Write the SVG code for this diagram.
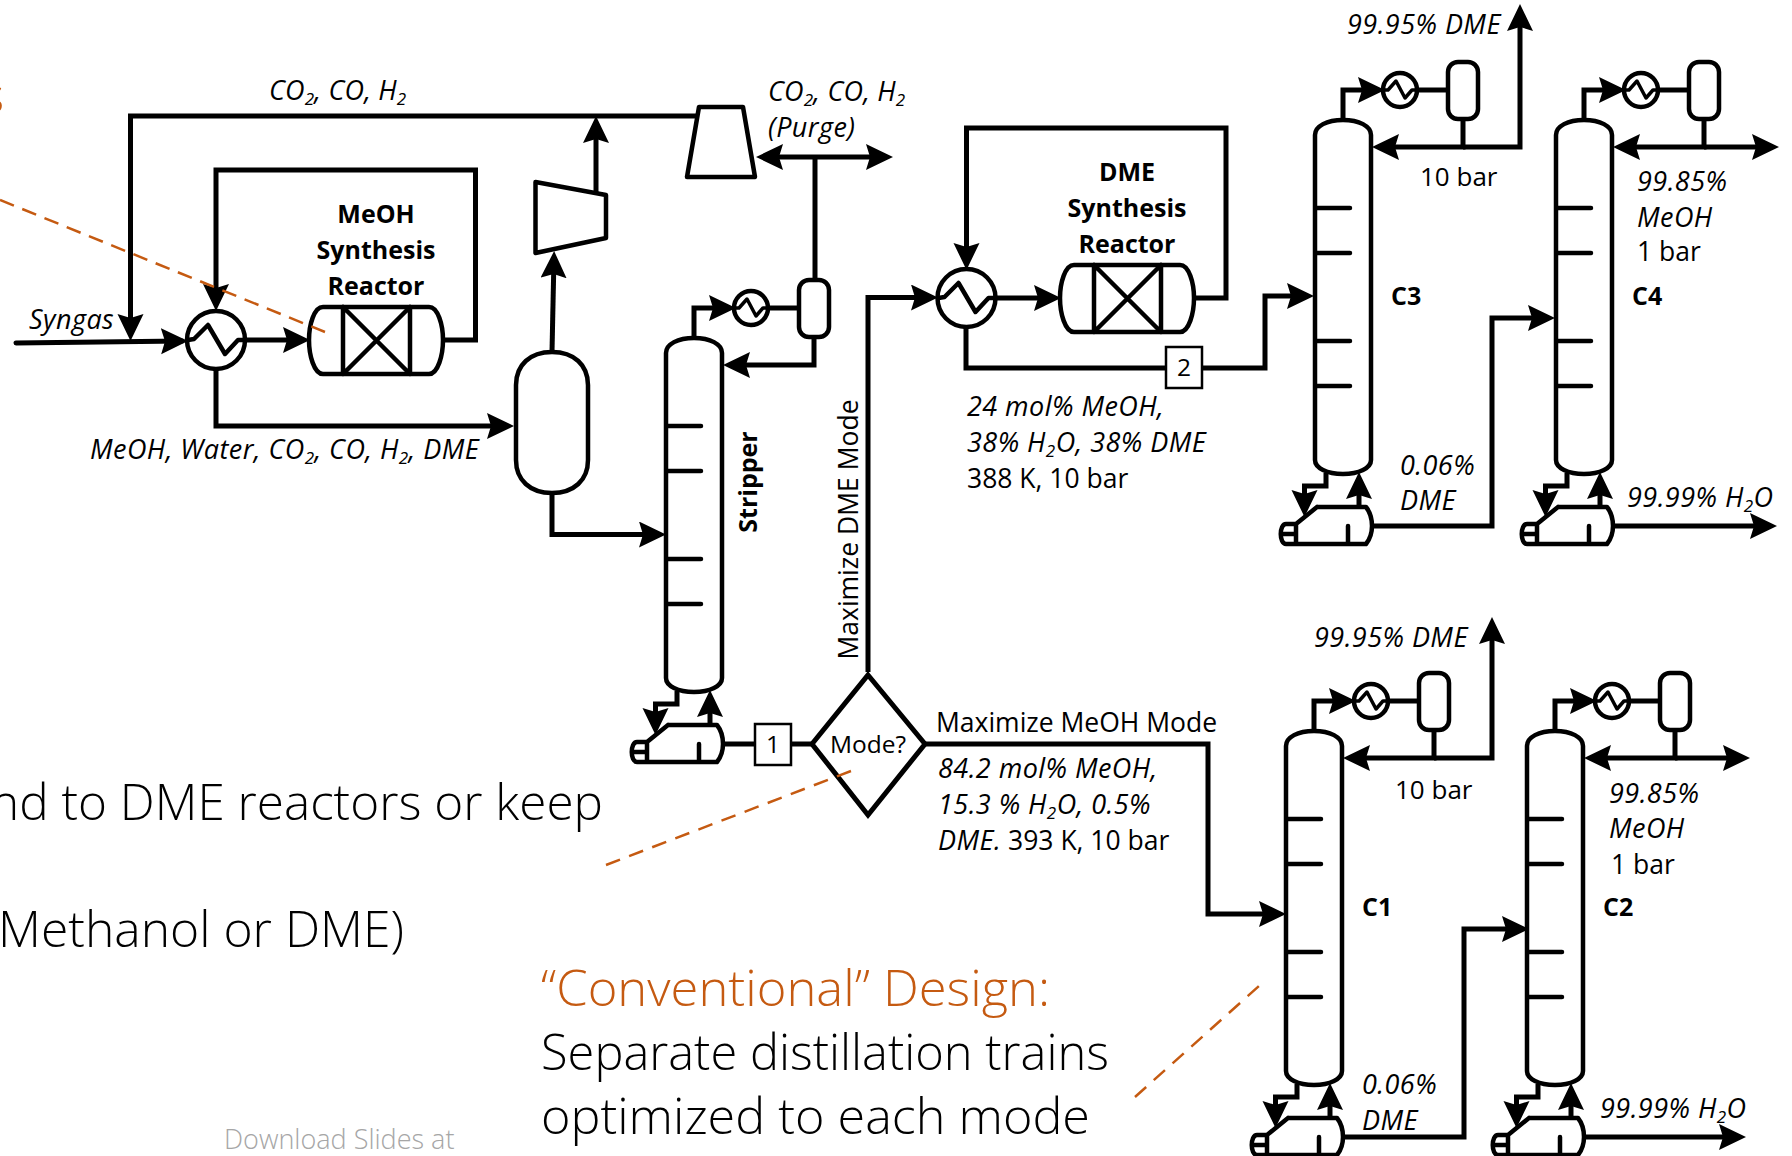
<svg xmlns="http://www.w3.org/2000/svg" width="1792" height="1156" viewBox="0 0 1792 1156">
<style>
text{font-family:"Open Sans","Noto Sans",sans-serif;fill:#000;font-size:26.5px}
.i{font-style:italic;font-size:27px;letter-spacing:.45px}
.b{font-weight:700;font-size:25px}
.m{text-anchor:middle}
.n{font-size:24.5px}
.l{font-weight:300;font-size:49px}
.o{fill:#C55A11}
.s{font-size:17px}
.ln{fill:none;stroke:#000;stroke-width:5;stroke-linejoin:miter}
.t{fill:none;stroke:#000;stroke-width:4.5;stroke-linecap:round;stroke-linejoin:round}
.d{fill:none;stroke:#C55A11;stroke-width:2.5;stroke-dasharray:15 9}
.bx{fill:#fff;stroke:#000;stroke-width:2.5}
</style>
<defs>
<marker id="ah" markerUnits="userSpaceOnUse" markerWidth="28" markerHeight="30" refX="21" refY="13" orient="auto"><path d="M0,0 L27,13 L0,26 L4,13 Z" fill="#000"/></marker>
<g id="hxL"><circle r="29" class="t"/><path class="t" d="M-28,0 L-22,-1 L-8,-15 L9,14 L22,0 L29,0"/></g>
<g id="hxS"><circle r="17" class="t"/><path class="t" style="stroke-width:3.5" d="M-16,0 L-12,0 L-4,-9 L5,8 L12,0 L16,0"/></g>
<g id="reactor">
<path class="t" d="M323,307 H429 C438,307 443,325 443,340 C443,355 438,374 429,374 H323 C314,374 309,355 309,340 C309,325 314,307 323,307 Z"/>
<path class="t" d="M343,307 V374 M410,307 V374 M343,374 L410,307 M343,307 L410,374"/>
</g>
<g id="col">
<path class="t" d="M666,353 C666,344 678,338 694,338 C710,338 722,344 722,353 V678 C722,686 710,692 694,692 C678,692 666,686 666,678 Z"/>
<path class="t" d="M668,426 H701 M668,471 H701 M668,559 H701 M668,604 H701"/>
<path class="t" d="M668,725 H717 C721,730 723,737 723,744 C723,751 721,757 717,762 H637 C630,762 630,742 637,742 H647 L668,725 M647,742 V762 M632,752 H647 M699,744 V762"/>
<rect x="799" y="280" width="30" height="57" rx="10" ry="10" class="t"/>
<use href="#hxS" x="751" y="308"/>
<path class="ln" d="M694,338 V308 H730" style="marker-end:url(#ah)"/>
<path class="ln" d="M768,308 H799"/>
<path class="ln" d="M814,337 V365 H729" style="marker-end:url(#ah)"/>
<path class="ln" d="M677,691 V704 H655.500 V729" style="marker-end:url(#ah)"/>
<path class="ln" d="M710,725 V696" style="marker-end:url(#ah)"/>
</g>
</defs>
<rect width="1792" height="1156" fill="#fff"/>

<g id="connectors">
<path class="ln" d="M697,116 H130.500 V335" style="marker-end:url(#ah)"/>
<path class="ln" d="M16,343 L182,341" style="marker-end:url(#ah)" stroke-linecap="round"/>
<path class="ln" d="M246,340 H304" style="marker-end:url(#ah)"/>
<path class="ln" d="M443,340 H475.500 V170 H216 V305" style="marker-end:url(#ah)"/>
<path class="ln" d="M216,370 V426 H508" style="marker-end:url(#ah)"/>
<path class="ln" d="M552,352 L554,257" style="marker-end:url(#ah)"/>
<path class="ln" d="M596,192 V122" style="marker-end:url(#ah)"/>
<path class="ln" d="M552,493 V534.500 H660" style="marker-end:url(#ah)"/>
<path class="ln" d="M815,157 V280"/>
<path class="ln" d="M815,157 H887" style="marker-end:url(#ah)"/>
<path class="ln" d="M815,157 H762" style="marker-end:url(#ah)"/>
<path class="ln" d="M723,744 H812"/>
<path class="ln" d="M868,672 V297.500 H932" style="marker-end:url(#ah)"/>
<path class="ln" d="M997,298 H1055" style="marker-end:url(#ah)"/>
<path class="ln" d="M1194,298 H1226 V128 H966.500 V264" style="marker-end:url(#ah)"/>
<path class="ln" d="M966,328 V368 H1265 V296 H1308" style="marker-end:url(#ah)"/>
<path class="ln" d="M925,744 H1208 V914 H1280" style="marker-end:url(#ah)"/>
<path class="ln" d="M1463,147 H1520 V10" style="marker-end:url(#ah)"/>
<path class="ln" d="M1704,147 H1773" style="marker-end:url(#ah)"/>
<path class="ln" d="M1372,526 H1492 V318 H1549" style="marker-end:url(#ah)"/>
<path class="ln" d="M1613,526 H1771" style="marker-end:url(#ah)"/>
<path class="ln" d="M1434,758 H1492 V623" style="marker-end:url(#ah)"/>
<path class="ln" d="M1675,758 H1744" style="marker-end:url(#ah)"/>
<path class="ln" d="M1343,1137 H1464 V929 H1523" style="marker-end:url(#ah)"/>
<path class="ln" d="M1584,1137 H1740" style="marker-end:url(#ah)"/>
</g>

<g id="hx1"><use href="#hxL" x="216" y="340"/></g>
<g id="meoh-reactor"><use href="#reactor"/>
<text class="b m" x="376" y="223">MeOH</text><text class="b m" x="376" y="259">Synthesis</text><text class="b m" x="376" y="295">Reactor</text></g>
<g id="hx2"><use href="#hxL" x="966.500" y="298"/></g>
<g id="dme-reactor"><use href="#reactor" transform="translate(751,-42)"/>
<text class="b m" x="1127" y="181">DME</text><text class="b m" x="1127" y="217">Synthesis</text><text class="b m" x="1127" y="253">Reactor</text></g>
<g id="separator"><path class="t" d="M516,385 C516,365 530,352 552,352 C574,352 588,365 588,385 V460 C588,480 574,493 552,493 C530,493 516,480 516,460 Z"/></g>
<g id="compressor"><path class="t" d="M535.500,182 L606,195 V238 L535.500,253 Z"/></g>
<g id="turbine"><path class="t" d="M699,107 H743 L755,177 H687 Z"/></g>

<g id="stripper"><use href="#col"/><text class="b m" transform="translate(757,482) rotate(-90)">Stripper</text></g>
<g id="c3"><use href="#col" transform="translate(649,-218)"/><text class="b" x="1391" y="305">C3</text></g>
<g id="c4"><use href="#col" transform="translate(890,-218)"/><text class="b" x="1632" y="305">C4</text></g>
<g id="c1"><use href="#col" transform="translate(620,393)"/><text class="b" x="1362" y="916">C1</text></g>
<g id="c2"><use href="#col" transform="translate(861,393)"/><text class="b" x="1603" y="916">C2</text></g>

<g id="box1"><rect class="bx" x="755" y="724" width="36" height="41"/><text class="m n" x="773" y="753">1</text></g>
<g id="box2"><rect class="bx" x="1166" y="347" width="36" height="41"/><text class="m n" x="1184" y="376">2</text></g>
<g id="mode"><path d="M868,675 L925,744 L868,815 L812,744 Z" fill="#fff" stroke="#000" stroke-width="5"/><text class="m n" x="868" y="753">Mode?</text></g>

<g id="labels" transform="translate(0,1.5)">
<text class="i" x="269" y="98" style="letter-spacing:.2px">CO<tspan class="s" dy="5">2</tspan><tspan dy="-5">, CO, H</tspan><tspan class="s" dy="5">2</tspan></text>
<text class="i" x="768" y="99" style="letter-spacing:.2px">CO<tspan class="s" dy="5">2</tspan><tspan dy="-5">, CO, H</tspan><tspan class="s" dy="5">2</tspan></text>
<text class="i" x="768" y="135">(Purge)</text>
<text class="i" x="29" y="327">Syngas</text>
<text class="i" x="90" y="457">MeOH, Water, CO<tspan class="s" dy="5">2</tspan><tspan dy="-5">, CO, H</tspan><tspan class="s" dy="5">2</tspan><tspan dy="-5">, DME</tspan></text>
<text transform="translate(858,528) rotate(-90)" class="m">Maximize DME Mode</text>
<text x="936" y="730">Maximize MeOH Mode</text>
<text class="i" x="938" y="776">84.2 mol% MeOH,</text>
<text class="i" x="938" y="812">15.3 % H<tspan class="s" dy="5">2</tspan><tspan dy="-5">O, 0.5%</tspan></text>
<text x="938" y="848"><tspan class="i">DME.</tspan> 393 K, 10 bar</text>
<text class="i" x="967" y="414">24 mol% MeOH,</text>
<text class="i" x="967" y="450">38% H<tspan class="s" dy="5">2</tspan><tspan dy="-5">O, 38% DME</tspan></text>
<text x="967" y="486">388 K, 10 bar</text>
<text class="i" x="1347" y="32">99.95% DME</text>
<text x="1420" y="184" style="font-size:26px">10 bar</text>
<text class="i" x="1637" y="189">99.85%</text>
<text class="i" x="1637" y="225">MeOH</text>
<text x="1637" y="259">1 bar</text>
<text class="i" x="1400" y="473">0.06%</text>
<text class="i" x="1400" y="508">DME</text>
<text class="i" x="1627" y="505">99.99% H<tspan class="s" dy="5">2</tspan><tspan dy="-5">O</tspan></text>
<text class="i" x="1314" y="645">99.95% DME</text>
<text x="1395" y="797" style="font-size:26px">10 bar</text>
<text class="i" x="1609" y="801">99.85%</text>
<text class="i" x="1609" y="836">MeOH</text>
<text x="1611" y="872">1 bar</text>
<text class="i" x="1362" y="1092">0.06%</text>
<text class="i" x="1362" y="1128">DME</text>
<text class="i" x="1600" y="1116">99.99% H<tspan class="s" dy="5">2</tspan><tspan dy="-5">O</tspan></text>
</g>

<g id="notes">
<text class="l o" text-anchor="end" x="4" y="113">s</text>
<text class="l" text-anchor="end" x="603" y="820" textLength="613" lengthAdjust="spacingAndGlyphs">nd to DME reactors or keep</text>
<text class="l" text-anchor="end" x="404" y="947" textLength="406" lengthAdjust="spacingAndGlyphs">Methanol or DME)</text>
<text class="l o" x="541" y="1006" textLength="509" lengthAdjust="spacingAndGlyphs">“Conventional” Design:</text>
<text class="l" x="541" y="1070" textLength="568" lengthAdjust="spacingAndGlyphs">Separate distillation trains</text>
<text class="l" x="541" y="1134" textLength="549" lengthAdjust="spacingAndGlyphs">optimized to each mode</text>
<text x="224" y="1149" style="font-weight:300;font-size:27px;fill:#A6A6A6">Download Slides at</text>
</g>
<g id="callouts">
<path class="d" d="M0,200 L325,332"/>
<path class="d" d="M606,865 L851,771" style="stroke-dasharray:15 9.74"/>
<path class="d" d="M1135,1097 L1259,986" style="stroke-dasharray:15 10.2"/>
</g>
</svg>
